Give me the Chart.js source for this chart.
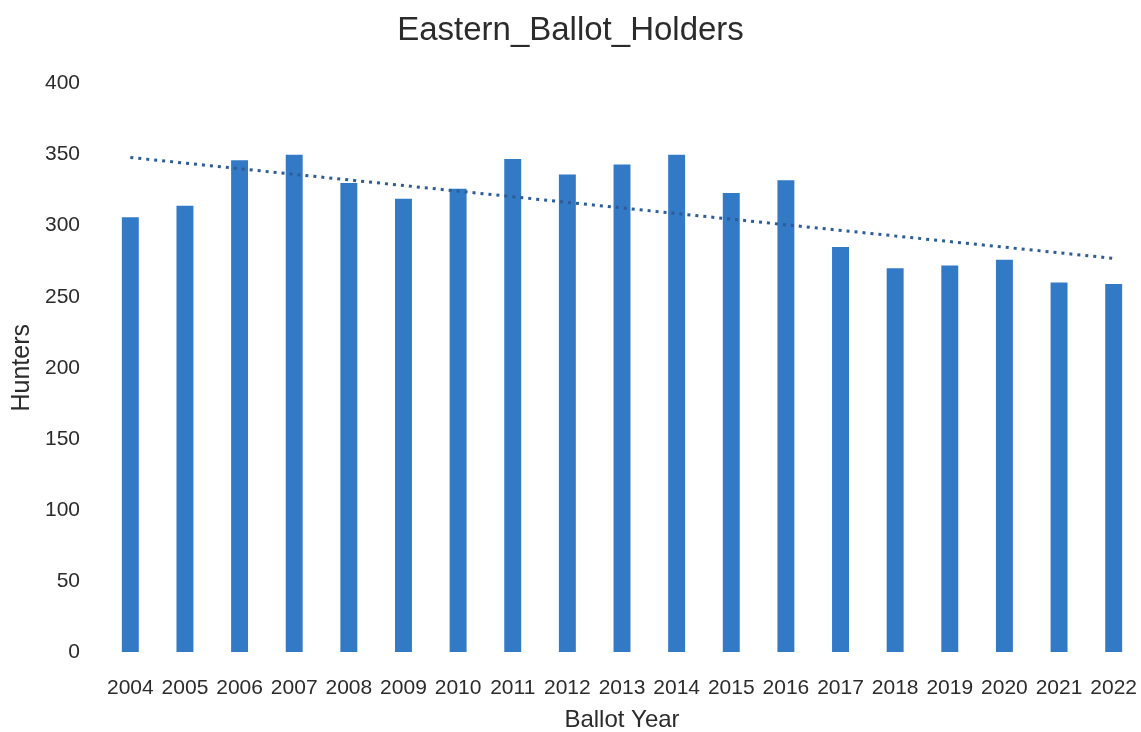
<!DOCTYPE html>
<html>
<head>
<meta charset="utf-8">
<script src="https://cdn.jsdelivr.net/npm/chart.js@4"></script>
<style>
  html, body { margin: 0; padding: 0; background: #fff; }
  #wrap { width: 1141px; height: 732px; }
</style>
</head>
<body>
<div id="wrap"><canvas id="ballot-chart"></canvas></div>
<script>
const years = ['2004', '2005', '2006', '2007', '2008', '2009', '2010', '2011', '2012', '2013',
               '2014', '2015', '2016', '2017', '2018', '2019', '2020', '2021', '2022'];
const hunters = [306, 314, 346, 350, 330, 319, 326, 347, 336, 343,
                 350, 323, 332, 285, 270, 272, 276, 260, 259];
// linear trend, only the two ends
const trend = [348, null, null, null, null, null, null, null, null, null,
               null, null, null, null, null, null, null, null, 277];
const yTicks = [0, 50, 100, 150, 200, 250, 300, 350, 400];

const textColor = '#2b2b2b';
const font = 'Liberation Sans';

const ctx = document.getElementById('ballot-chart').getContext('2d');
const chart = new Chart(ctx, {
    type: 'bar',
    data: {
        labels: years,
        datasets: [{
            label: 'Hunters',
            data: hunters,
            backgroundColor: '#3279c6',
            barPercentage: 0.62,
            categoryPercentage: 0.5,
            order: 2
        }, {
            type: 'line',
            label: 'Linear trend',
            data: trend,
            spanGaps: true,
            borderColor: '#2d5c98',
            borderWidth: 3,
            borderDash: [3, 5],
            pointRadius: 0,
            fill: false,
            order: 1
        }]
    },
    options: {
        responsive: true,
        maintainAspectRatio: false,
        animation: false,
        layout: { padding: 0 },
        plugins: {
            legend: { display: false },
            tooltip: { enabled: false },
            title: {
                display: true,
                text: 'Eastern_Ballot_Holders',
                color: textColor,
                font: { family: font, size: 33, weight: 'normal' },
                padding: { top: 11, bottom: 33 }
            }
        },
        scales: {
            x: {
                offset: true,
                grid: { display: false },
                border: { display: false },
                afterFit: axis => {
                    axis.height = 80;
                    axis.paddingLeft = 0;
                    axis.paddingRight = 0;
                },
                ticks: {
                    color: textColor,
                    font: { family: font, size: 21 },
                    maxRotation: 0,
                    autoSkip: false,
                    padding: 16
                },
                title: {
                    display: true,
                    text: 'Ballot Year',
                    color: textColor,
                    font: { family: font, size: 24, lineHeight: 1 },
                    padding: { top: 0, bottom: 0 }
                }
            },
            y: {
                min: 0,
                max: 400,
                grid: { display: false, drawTicks: false },
                border: { display: false },
                afterBuildTicks: axis => { axis.ticks = yTicks.map(v => ({ value: v })); },
                afterFit: axis => { axis.width = 103; },
                ticks: {
                    color: textColor,
                    font: { family: font, size: 21 },
                    padding: 23
                },
                title: {
                    display: true,
                    text: 'Hunters',
                    color: textColor,
                    font: { family: font, size: 25 },
                    padding: { top: 7, bottom: 0 }
                }
            }
        }
    }
});
</script>
</body>
</html>
